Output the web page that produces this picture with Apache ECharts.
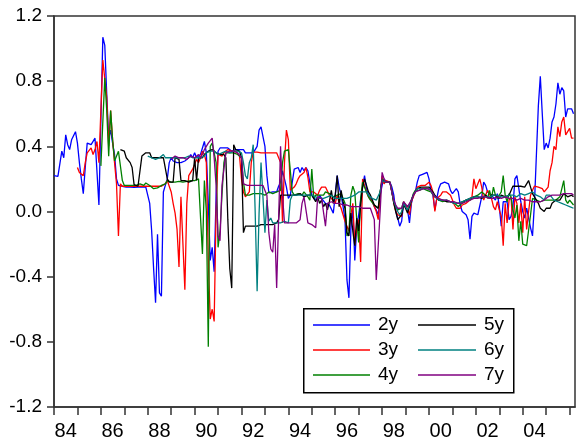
<!DOCTYPE html>
<html><head><meta charset="utf-8">
<script src="https://cdn.jsdelivr.net/npm/echarts@6/dist/echarts.min.js"></script>
<style>html,body{margin:0;padding:0;background:#fff}#c{width:576px;height:441px}</style>
</head><body><div id="c"></div>
<script>
// Monthly observations starting January 1984
const startYear = 1984;
const seriesNames = ['2y','3y','4y','5y','6y','7y'];
const seriesColors = ['#0000ff','#ff0000','#008000','#000000','#008080','#800080'];
const xTickYears = [1984,1985,1986,1987,1988,1989,1990,1991,1992,1993,1994,1995,1996,1997,1998,1999,2000,2001,2002,2003,2004,2005,2006];
const xLabelYears = [1984,1986,1988,1990,1992,1994,1996,1998,2000,2002,2004];
const xLabels = ['84','86','88','90','92','94','96','98','00','02','04'];
const yMin = -1.2, yMax = 1.2, yStep = 0.4;

const s2y = [
0.22,0.22,0.215,0.215,0.37,0.33,0.47,0.41,0.38,0.44,0.445,0.49,
0.42,0.30,0.20,0.11,0.27,0.42,0.41,0.41,0.41,0.45,0.46,0.04,
0.04,1.07,1.02,0.72,0.45,0.50,0.42,0.35,0.20,0.16,0.15,0.155,
0.15,0.15,0.152,0.15,0.15,0.148,0.15,0.15,0.152,0.15,0.15,0.15,
0.14,0.05,-0.12,-0.35,-0.56,-0.14,-0.50,-0.52,0.12,0.16,0.20,0.30,
0.33,0.31,0.30,0.30,0.29,0.30,0.30,0.31,0.30,0.33,0.35,0.33,
0.36,0.33,0.34,0.35,0.35,0.43,0.36,0.05,-0.30,-0.22,-0.37,0.10,
0.37,0.39,0.38,0.39,0.38,0.39,0.38,0.37,0.38,0.38,0.37,0.38,
0.37,0.38,0.36,0.37,0.36,0.37,0.36,0.36,0.40,0.50,0.52,0.53,
0.40,0.22,0.115,0.115,0.12,0.11,0.12,0.155,0.18,0.25,0.26,0.15,
0.08,0.10,0.18,0.26,0.25,0.27,0.24,0.27,0.25,0.27,0.25,0.24,
0.10,0.08,0.09,0.07,0.10,0.08,0.08,0.05,0.06,0.04,0.03,-0.01,
0.10,0.22,0.15,0.10,0.03,-0.05,-0.42,-0.53,-0.11,0.03,-0.30,-0.10,
-0.02,0.07,0.15,0.22,0.14,0.10,0.08,0.06,0.03,0.01,-0.02,0.10,
0.16,0.20,0.18,0.17,0.18,0.15,0.10,0.0,-0.04,-0.09,-0.06,0.05,
0.03,0.01,-0.07,0.05,0.10,0.12,0.18,0.22,0.22,0.23,0.24,0.24,
0.20,0.13,0.10,0.01,0.08,0.14,0.17,0.18,0.18,0.19,0.17,0.13,
0.11,0.12,0.14,0.12,0.04,0.0,-0.01,-0.02,-0.05,-0.17,-0.03,-0.01,
-0.01,-0.02,-0.02,0.09,0.18,0.16,0.12,0.12,0.10,0.10,0.07,0.11,
0.03,-0.09,0.06,0.07,0.06,-0.05,-0.03,0.03,0.20,0.22,0.14,0.06,
0.0,-0.04,0.02,-0.04,-0.10,-0.15,0.05,0.35,0.65,0.83,0.60,0.38,
0.42,0.39,0.45,0.55,0.58,0.66,0.79,0.72,0.76,0.74,0.58,0.63,
0.64,0.63,0.60
];

const s3y = [
null,null,null,null,null,null,null,null,null,null,null,null,
0.27,0.24,0.23,0.22,0.30,0.36,0.37,0.39,0.35,0.38,0.43,0.30,
0.62,0.93,0.92,0.70,0.40,0.62,0.44,0.30,0.17,-0.15,0.17,0.155,
0.155,0.155,0.154,0.155,0.155,0.155,0.154,0.155,0.155,0.155,0.155,0.155,
0.155,0.155,0.155,0.155,0.154,0.155,0.155,0.155,0.16,0.17,0.19,0.19,
0.12,0.05,-0.01,-0.11,-0.34,0.09,0.08,-0.48,0.05,0.22,0.24,0.26,
0.25,0.32,0.30,0.33,0.37,0.35,0.30,-0.30,-0.66,-0.60,-0.675,0.0,
0.35,0.35,0.34,0.36,0.37,0.38,0.38,0.37,0.38,0.37,0.36,0.34,
0.20,0.12,0.09,0.10,0.12,0.30,0.365,0.36,0.365,0.37,0.36,0.365,
0.36,0.365,0.36,0.365,0.36,0.365,0.36,0.36,0.30,-0.07,0.30,0.50,
0.44,0.13,0.14,0.15,0.17,0.20,0.22,0.23,0.24,0.27,0.21,0.12,
0.12,0.12,0.11,0.10,0.13,0.15,0.15,0.15,0.14,0.10,0.08,0.08,
0.05,0.10,0.05,0.02,-0.02,-0.06,-0.09,-0.12,-0.02,0.05,-0.20,-0.10,
-0.05,-0.31,0.20,0.16,0.12,0.09,0.08,0.06,0.03,0.0,-0.05,0.10,
0.22,0.17,0.19,0.18,0.18,0.12,0.05,0.0,-0.02,-0.03,-0.03,0.06,
0.04,0.02,-0.02,0.06,0.09,0.12,0.15,0.16,0.16,0.16,0.16,0.17,
0.18,0.16,0.12,0.0,0.08,0.09,0.10,0.12,0.13,0.12,0.12,0.10,
0.07,0.04,0.02,0.01,0.02,0.04,0.05,0.05,0.06,0.07,0.09,0.20,
0.14,0.15,0.20,0.15,0.07,0.08,0.13,0.13,0.08,0.03,0.01,0.06,
0.01,-0.03,-0.21,0.05,-0.07,0.07,0.09,-0.11,0.09,0.05,-0.07,0.05,
-0.13,0.09,-0.11,0.0,0.10,0.13,0.156,0.16,0.15,0.16,0.14,0.12,
0.13,0.15,0.25,0.30,0.40,0.38,0.52,0.46,0.55,0.58,0.47,0.49,
0.51,0.45,0.45
];

const s4y = [
null,null,null,null,null,null,null,null,null,null,null,null,
null,null,null,null,null,null,null,null,null,null,null,null,
0.28,0.55,0.82,0.62,0.34,0.62,0.44,0.31,0.31,0.37,0.38,0.19,
0.16,0.16,0.16,0.16,0.16,0.16,0.16,0.165,0.17,0.165,0.16,0.175,
0.165,0.16,0.15,0.14,0.14,0.145,0.15,0.16,0.16,0.17,0.19,0.18,
0.18,0.18,0.18,0.18,0.185,0.18,0.18,0.18,0.185,0.19,0.19,0.19,
0.19,0.19,0.20,0.19,-0.26,0.19,0.0,-0.83,0.40,0.42,0.36,0.30,
-0.22,-0.12,0.10,0.30,0.36,0.35,0.36,0.35,0.36,0.35,0.35,0.34,
0.33,0.18,0.10,0.09,0.10,0.10,0.11,0.10,0.11,0.10,0.11,0.11,
0.10,0.11,0.12,0.11,0.11,0.12,0.12,0.13,0.13,0.30,0.37,0.38,
0.38,0.37,0.12,0.10,0.10,0.11,0.10,0.10,0.12,0.11,0.09,0.07,
0.26,0.08,0.10,0.10,0.10,0.11,0.10,0.12,0.12,0.11,0.10,0.09,
0.10,0.10,0.11,0.11,0.12,0.05,-0.15,-0.13,0.10,0.155,0.12,-0.05,
-0.19,0.08,0.18,0.18,0.12,0.09,0.07,0.06,0.04,0.03,0.02,0.12,
0.20,0.19,0.18,0.18,0.18,0.12,0.06,0.03,0.01,0.01,0.02,0.06,
0.04,0.03,0.03,0.07,0.11,0.13,0.13,0.13,0.13,0.14,0.13,0.13,
0.12,0.12,0.11,0.09,0.08,0.07,0.07,0.06,0.06,0.07,0.06,0.06,
0.05,0.05,0.04,0.03,0.04,0.05,0.06,0.07,0.08,0.07,0.08,0.09,
0.09,0.10,0.10,0.12,0.13,0.10,0.08,0.13,0.08,0.15,0.10,0.08,
0.07,0.12,0.22,0.10,0.06,0.11,0.09,0.01,-0.04,0.04,-0.18,-0.06,
-0.20,-0.21,-0.21,-0.22,-0.02,0.08,0.09,0.07,0.06,0.06,0.07,0.07,
0.06,0.07,0.06,0.07,0.06,0.07,0.08,0.09,0.10,0.19,0.07,0.05,
0.07,0.06,0.04
];

const s5y = [
null,null,null,null,null,null,null,null,null,null,null,null,
null,null,null,null,null,null,null,null,null,null,null,null,
null,null,null,null,null,null,null,null,null,null,0.38,0.37,
0.37,0.33,0.33,0.30,0.27,0.165,0.16,0.155,0.16,0.34,0.35,0.36,
0.36,0.36,0.33,0.33,0.33,0.33,0.33,0.33,0.33,0.32,0.20,0.18,
0.18,0.18,0.33,0.33,0.32,0.19,0.19,0.19,0.19,0.18,0.19,0.19,
0.33,0.19,0.33,0.34,0.33,0.35,0.36,0.37,0.37,0.38,0.37,0.36,
0.36,0.35,0.34,0.35,0.33,-0.05,-0.35,-0.47,0.41,0.38,0.38,0.37,
0.33,-0.13,-0.09,-0.08,-0.09,-0.08,-0.09,-0.08,-0.09,-0.08,-0.08,-0.09,
-0.08,-0.07,-0.08,-0.08,-0.08,-0.08,-0.07,-0.05,0.10,0.11,0.10,0.09,
0.10,0.11,0.10,0.09,0.10,0.10,0.11,0.10,0.09,0.10,0.10,0.09,
0.10,0.08,0.06,0.09,0.05,0.07,0.03,0.05,0.01,0.06,0.13,0.05,
0.10,0.22,0.03,0.13,0.06,0.02,-0.13,-0.15,-0.01,-0.12,-0.21,-0.04,
-0.12,0.04,0.15,0.20,0.16,0.12,0.10,0.07,0.04,0.03,0.02,0.12,
0.19,0.20,0.18,0.18,0.18,0.12,0.05,0.0,-0.05,-0.05,-0.02,0.04,
0.02,-0.01,-0.01,0.07,0.10,0.12,0.14,0.14,0.15,0.15,0.15,0.15,
0.15,0.14,0.12,0.10,0.09,0.07,0.07,0.07,0.07,0.06,0.07,0.06,
0.06,0.05,0.05,0.05,0.05,0.06,0.06,0.07,0.07,0.08,0.08,0.09,
0.09,0.09,0.10,0.08,0.09,0.10,0.09,0.08,0.10,0.09,0.10,0.09,
0.08,0.10,0.09,0.09,0.08,0.10,0.09,0.156,0.156,0.155,0.156,0.155,
0.15,0.15,0.17,0.19,0.15,0.11,0.09,0.07,0.05,0.02,0.01,0.0,
0.02,0.03,0.02,0.05,0.06,0.07,0.08,0.07,0.08,0.11,0.10,0.09,
0.10,0.10,0.09
];

const s6y = [
null,null,null,null,null,null,null,null,null,null,null,null,
null,null,null,null,null,null,null,null,null,null,null,null,
null,null,null,null,null,null,null,null,null,null,null,null,
null,null,null,null,null,null,null,null,null,null,null,null,
0.34,0.35,0.33,0.32,0.32,0.32,0.33,0.34,0.35,0.33,0.33,0.33,
0.33,0.33,0.32,0.33,0.34,0.33,0.32,0.33,0.33,0.34,0.33,0.33,
0.34,0.33,0.32,0.33,0.33,0.34,0.36,0.37,0.37,0.38,0.37,0.36,
0.35,0.35,0.36,0.36,0.37,0.37,0.36,0.37,0.37,0.36,0.37,0.36,
0.36,0.30,0.22,0.20,0.30,0.33,0.41,0.0,-0.49,-0.01,0.30,0.30,
-0.13,0.07,-0.06,-0.04,-0.07,-0.07,-0.07,-0.06,-0.07,-0.07,-0.06,-0.07,
-0.07,0.07,0.10,0.10,0.10,0.11,0.10,0.10,0.10,0.10,0.10,0.10,
0.10,0.09,0.09,0.08,0.08,0.08,0.08,0.09,0.09,0.10,0.10,0.09,
0.08,0.08,0.08,0.08,0.08,0.08,0.08,0.08,0.09,0.10,0.10,0.11,
0.12,0.11,0.12,0.13,0.12,0.10,0.09,0.08,0.07,0.07,0.07,0.12,
0.19,0.20,0.18,0.18,0.18,0.12,0.06,0.03,0.0,-0.02,0.0,0.05,
0.03,0.01,0.02,0.07,0.10,0.12,0.14,0.14,0.14,0.15,0.14,0.14,
0.14,0.13,0.11,0.09,0.08,0.07,0.07,0.07,0.06,0.07,0.06,0.06,
0.05,0.05,0.05,0.05,0.06,0.06,0.07,0.07,0.08,0.08,0.08,0.09,
0.09,0.09,0.10,0.09,0.09,0.09,0.09,0.09,0.09,0.10,0.10,0.10,
0.10,0.09,0.09,0.09,0.10,0.10,0.10,0.10,0.09,0.09,0.10,0.11,
0.11,0.10,0.10,0.11,0.10,0.12,0.13,0.10,0.09,0.09,0.08,0.07,
0.10,0.11,0.10,0.09,0.07,0.06,0.06,0.05,0.05,0.04,0.04,0.03,
0.03,0.025,0.02
];

const s7y = [
null,null,null,null,null,null,null,null,null,null,null,null,
null,null,null,null,null,null,null,null,null,null,null,null,
null,null,null,null,null,null,null,null,null,null,null,null,
null,null,null,null,null,null,null,null,null,null,null,null,
null,null,null,null,null,null,null,null,null,null,null,null,
0.32,0.33,0.34,0.33,0.33,0.34,0.33,0.33,0.32,0.33,0.34,0.33,
0.33,0.34,0.35,0.33,0.35,0.38,0.40,0.42,0.43,0.45,0.33,0.16,
-0.15,-0.18,0.16,0.17,0.36,0.37,0.37,0.37,0.37,0.37,0.36,0.36,
0.33,0.17,0.16,0.16,0.16,0.16,0.16,0.16,0.15,0.16,0.16,0.16,
0.16,0.10,-0.13,-0.23,-0.25,-0.08,-0.47,-0.05,0.40,0.10,-0.07,-0.07,
-0.07,-0.07,-0.07,-0.07,-0.07,-0.07,-0.05,0.05,0.09,0.09,-0.07,-0.08,
-0.08,-0.09,-0.10,0.09,0.08,0.08,0.09,-0.09,0.05,0.06,0.06,0.05,
0.05,0.04,0.05,0.04,0.04,0.03,0.04,0.04,0.03,0.03,0.03,0.02,
0.03,0.02,0.02,0.03,0.02,0.02,0.02,0.02,-0.05,-0.42,-0.43,0.0,
0.24,0.20,0.18,0.17,0.18,0.12,0.07,0.04,0.02,0.01,0.02,0.06,
0.05,0.03,0.03,0.07,0.10,0.12,0.13,0.13,0.13,0.14,0.14,0.14,
0.14,0.13,0.11,0.09,0.08,0.08,0.07,0.07,0.07,0.07,0.06,0.06,
0.06,0.06,0.05,0.05,0.05,0.05,0.06,0.06,0.06,0.07,0.07,0.08,
0.08,0.08,0.08,0.09,0.09,0.09,0.08,0.08,0.09,0.08,0.08,0.09,
0.09,0.08,0.08,0.09,0.08,0.08,0.09,0.08,0.08,0.07,0.07,0.08,
0.08,0.07,0.07,0.07,0.06,0.06,0.07,0.06,0.06,0.06,0.07,0.07,
0.08,0.09,0.09,0.10,0.10,0.10,0.11,0.10,0.11,0.11,0.10,0.11,
0.10,0.11,0.10
];

const allSeries = [s2y, s3y, s4y, s5y, s6y, s7y];
const FONT = 'Liberation Sans, Arial, sans-serif';
const lineIcon = 'path://M0,0 L60,0 L60,1.5 L0,1.5 Z';

const chart = echarts.init(document.getElementById('c'), null, {renderer: 'canvas'});
chart.setOption({
  animation: false,
  backgroundColor: '#fff',
  grid: {left: 54, top: 16, width: 521, height: 391, show: true, borderColor: '#333', borderWidth: 1.5, backgroundColor: 'transparent'},
  xAxis: {
    type: 'value', min: startYear, max: 2006.23,
    axisLine: {show: true, onZero: false, lineStyle: {color: '#333', width: 1.5}},
    axisTick: {show: true, customValues: xTickYears, length: 8, lineStyle: {color: '#333', width: 1.5}},
    axisLabel: {
      show: true, customValues: xLabelYears.map(y => y + 0.5), margin: 14,
      fontSize: 20, color: '#000', fontFamily: FONT,
      formatter: v => { const k = xLabelYears.indexOf(Math.round(v - 0.5)); return k >= 0 ? xLabels[k] : ''; }
    },
    splitLine: {show: false}
  },
  yAxis: {
    type: 'value', min: yMin, max: yMax, interval: yStep,
    axisLine: {show: true, onZero: false, lineStyle: {color: '#333', width: 1.5}},
    axisTick: {show: true, length: 7, lineStyle: {color: '#333', width: 1.5}},
    axisLabel: {fontSize: 19, color: '#000', fontFamily: FONT, margin: 12, formatter: v => v.toFixed(1)},
    splitLine: {show: false}
  },
  legend: [
    {data: seriesNames.slice(0, 3), orient: 'vertical', left: 313, top: 315, icon: lineIcon, itemWidth: 57, itemHeight: 14, itemGap: 5, padding: 0,
     textStyle: {fontSize: 19, lineHeight: 20, color: '#000', fontFamily: FONT, padding: [0, 0, 0, 3]}, z: 10},
    {data: seriesNames.slice(3), orient: 'vertical', left: 418, top: 315, icon: lineIcon, itemWidth: 58, itemHeight: 14, itemGap: 5, padding: 0,
     textStyle: {fontSize: 19, lineHeight: 20, color: '#000', fontFamily: FONT, padding: [0, 0, 0, 3]}, z: 10}
  ],
  graphic: [{type: 'rect', left: 303, top: 308, shape: {width: 210, height: 84}, style: {fill: '#fff', stroke: '#000', lineWidth: 1.5}, z: 5}],
  series: allSeries.map((arr, k) => ({
    name: seriesNames[k], type: 'line', symbol: 'none', showSymbol: false,
    lineStyle: {color: seriesColors[k], width: 1.3}, itemStyle: {color: seriesColors[k]},
    data: arr.map((v, i) => [startYear + i / 12, v]),
    connectNulls: false, z: 2
  }))
});
</script></body></html>
